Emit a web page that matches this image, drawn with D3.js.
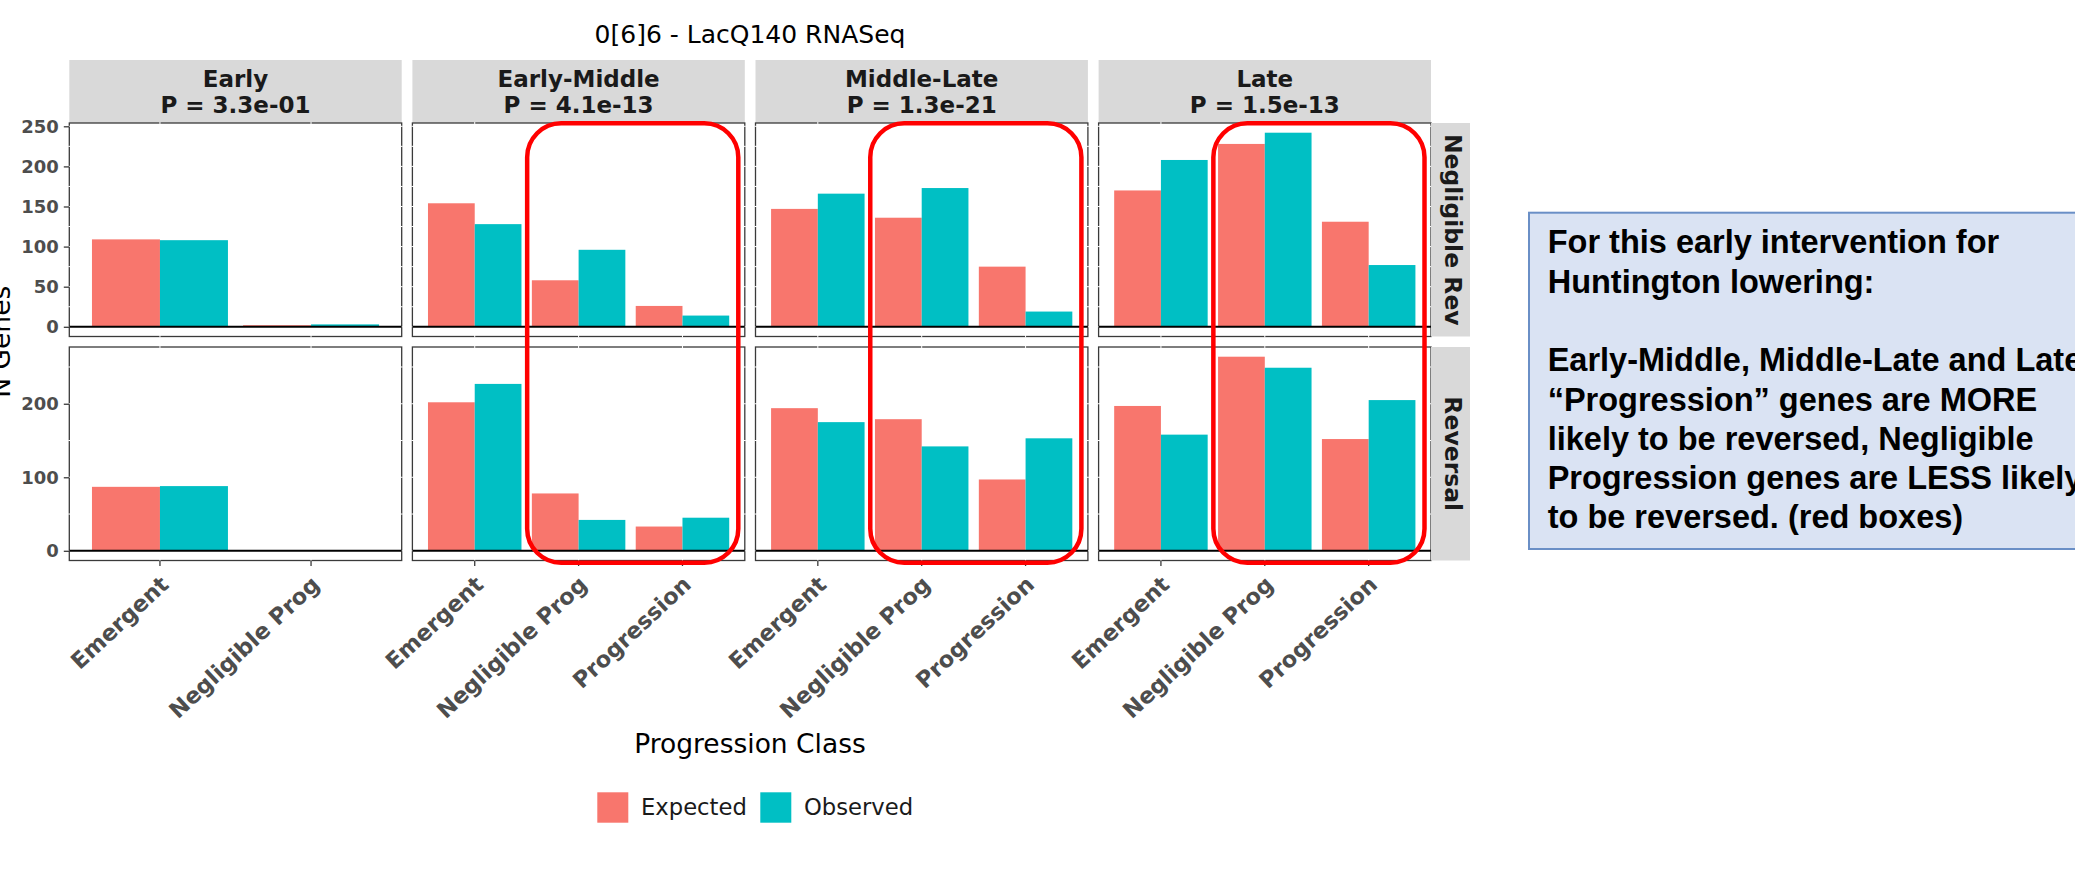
<!DOCTYPE html>
<html>
<head>
<meta charset="utf-8">
<script src="https://cdn.jsdelivr.net/npm/d3@7"></script>
<style>
  body { margin: 0; background: #fff; }
  svg { display: block; }
</style>
</head>
<body>
<svg id="chart" width="2075" height="877"></svg>
<script>
// ---- data -------------------------------------------------------------
const stages = ["Early", "Early-Middle", "Middle-Late", "Late"];
const pValues = ["3.3e-01", "4.1e-13", "1.3e-21", "1.5e-13"];
const progClasses = [
  ["Emergent", "Negligible Prog"],
  ["Emergent", "Negligible Prog", "Progression"],
  ["Emergent", "Negligible Prog", "Progression"],
  ["Emergent", "Negligible Prog", "Progression"]
];
const reversalClasses = ["Negligible Rev", "Reversal"];
const seriesNames = ["Expected", "Observed"];

// counts per stage, in the order of progClasses
const negRevExpected   = [[109, 2], [154, 58, 26], [147, 136, 75], [170, 228, 131]];
const negRevObserved   = [[108, 3], [128, 96, 14], [166, 173, 19], [208, 242, 77]];
const reversalExpected = [[87, 0], [202, 78, 33], [194, 179, 97], [197, 264, 152]];
const reversalObserved = [[88, 0], [227, 42, 45], [175, 142, 153], [158, 249, 205]];

const negRevTicks   = [0, 50, 100, 150, 200, 250];
const reversalTicks = [0, 100, 200];

const chartTitle = "0[6]6 - LacQ140 RNASeq";
const xTitle = "Progression Class";
const yTitle = "N Genes";

const noteLines = [
  "For this early intervention for",
  "Huntington lowering:",
  "",
  "Early-Middle, Middle-Late and Late",
  "\u201CProgression\u201D genes are MORE",
  "likely to be reversed, Negligible",
  "Progression genes are LESS likely",
  "to be reversed. (red boxes)"
];

// ---- layout -----------------------------------------------------------
const colors = { Expected: "#F8766D", Observed: "#00BFC4" };
const font = "'DejaVu Sans', Verdana, sans-serif";
const L = {
  panelLeft: 69.3, panelW: 332.4, gap: 10.7,
  stripTop: 60, stripH: 63,
  rowTops: [123, 347], rowH: 213.5,
  rightStripW: 39
};

const rows = [
  { label: reversalClasses[0], exp: negRevExpected, obs: negRevObserved, ticks: negRevTicks },
  { label: reversalClasses[1], exp: reversalExpected, obs: reversalObserved, ticks: reversalTicks }
];

const svg = d3.select("#chart");
svg.append("rect").attr("width", 2075).attr("height", 877).attr("fill", "#fff");

// title
svg.append("text")
  .attr("x", 750).attr("y", 43.3)
  .attr("text-anchor", "middle")
  .attr("font-family", font).attr("font-size", 25).attr("fill", "#000")
  .text(chartTitle);

const panelX = s => L.panelLeft + s * (L.panelW + L.gap);

// x scales, one per stage (free x)
const xScales = stages.map((st, s) =>
  d3.scaleBand()
    .domain(progClasses[s])
    .range([panelX(s), panelX(s) + L.panelW])
    .paddingInner(0.1)
    .paddingOuter(0.15)
);

// top strips
stages.forEach((st, s) => {
  const g = svg.append("g");
  g.append("rect")
    .attr("x", panelX(s)).attr("y", L.stripTop)
    .attr("width", L.panelW).attr("height", L.stripH)
    .attr("fill", "#D9D9D9");
  const cx = panelX(s) + L.panelW / 2;
  g.append("text")
    .attr("x", cx).attr("y", L.stripTop + 26.7)
    .attr("text-anchor", "middle")
    .attr("font-family", font).attr("font-weight", "bold")
    .attr("font-size", 23).attr("fill", "#1A1A1A")
    .text(st);
  g.append("text")
    .attr("x", cx).attr("y", L.stripTop + 52.7)
    .attr("text-anchor", "middle")
    .attr("font-family", font).attr("font-weight", "bold")
    .attr("font-size", 23).attr("fill", "#1A1A1A")
    .text("P = " + pValues[s]);
});

rows.forEach((row, r) => {
  const top = L.rowTops[r];
  const bottom = top + L.rowH;
  const yMax = d3.max([...row.exp.flat(), ...row.obs.flat()]);
  const y = d3.scaleLinear()
    .domain([-0.05 * yMax, 1.05 * yMax])
    .range([bottom, top]);
  const step = row.ticks[1] - row.ticks[0];
  const minor = row.ticks.map(t => t + step / 2).filter(v => y(v) > top);

  stages.forEach((st, s) => {
    const x = xScales[s];
    const xs = d3.scaleBand().domain(seriesNames).range([0, x.bandwidth()]);
    const px = panelX(s);
    const g = svg.append("g");

    g.append("rect")
      .attr("x", px).attr("y", top).attr("width", L.panelW).attr("height", L.rowH)
      .attr("fill", "#fff").attr("stroke", "#3a3a3a").attr("stroke-width", 1.3);

    // grid lines (white)
    g.selectAll(".gh").data([...row.ticks, ...minor]).join("line")
      .attr("x1", px - 1).attr("x2", px + L.panelW + 1)
      .attr("y1", d => y(d)).attr("y2", d => y(d))
      .attr("stroke", "#fff").attr("stroke-width", 1);
    g.selectAll(".gv").data(progClasses[s]).join("line")
      .attr("x1", d => x(d) + x.bandwidth() / 2).attr("x2", d => x(d) + x.bandwidth() / 2)
      .attr("y1", top - 1).attr("y2", bottom + 1)
      .attr("stroke", "#fff").attr("stroke-width", 1);

    // bars
    const bars = [];
    progClasses[s].forEach((c, i) => {
      bars.push({ cls: c, series: "Expected", value: row.exp[s][i] });
      bars.push({ cls: c, series: "Observed", value: row.obs[s][i] });
    });
    g.selectAll(".bar").data(bars).join("rect")
      .attr("x", d => x(d.cls) + xs(d.series))
      .attr("width", xs.bandwidth())
      .attr("y", d => y(Math.max(0, d.value)))
      .attr("height", d => Math.abs(y(0) - y(d.value)))
      .attr("fill", d => colors[d.series]);

    // zero line
    g.append("line")
      .attr("x1", px).attr("x2", px + L.panelW)
      .attr("y1", y(0)).attr("y2", y(0))
      .attr("stroke", "#000").attr("stroke-width", 2);

    // y axis on first column
    if (s === 0) {
      const ax = g.append("g")
        .attr("transform", `translate(${px},0)`)
        .call(d3.axisLeft(y).tickValues(row.ticks).tickSize(5.5).tickPadding(5));
      ax.select(".domain").remove();
      ax.selectAll(".tick line").attr("stroke", "#3a3a3a").attr("stroke-width", 1.3);
      ax.selectAll(".tick text")
        .attr("font-family", font).attr("font-weight", "bold")
        .attr("font-size", 18).attr("fill", "#4D4D4D");
    }

    // x axis on bottom row
    if (r === rows.length - 1) {
      const ax = g.append("g")
        .attr("transform", `translate(0,${bottom})`)
        .call(d3.axisBottom(x).tickSize(5.5).tickPadding(0));
      ax.select(".domain").remove();
      ax.selectAll(".tick line").attr("stroke", "#3a3a3a").attr("stroke-width", 1.3);
      ax.selectAll(".tick text")
        .attr("y", 0).attr("dy", "0.72em")
        .attr("transform", "translate(-1,14) rotate(-43)")
        .attr("text-anchor", "end")
        .attr("font-family", font).attr("font-weight", "bold")
        .attr("font-size", 22.5).attr("fill", "#4D4D4D");
    }
  });

  // right strip
  const sx = panelX(stages.length - 1) + L.panelW;
  svg.append("rect")
    .attr("x", sx).attr("y", top).attr("width", L.rightStripW).attr("height", L.rowH)
    .attr("fill", "#D9D9D9");
  svg.append("text")
    .attr("transform", `translate(${sx + 13.5},${top + L.rowH / 2}) rotate(90)`)
    .attr("text-anchor", "middle")
    .attr("font-family", font).attr("font-weight", "bold")
    .attr("font-size", 23.5).attr("fill", "#1A1A1A")
    .text(row.label);
});

// axis titles
svg.append("text")
  .attr("x", 750).attr("y", 753.3)
  .attr("text-anchor", "middle")
  .attr("font-family", font).attr("font-size", 26.5).attr("fill", "#000")
  .text(xTitle);
svg.append("text")
  .attr("transform", `translate(9.5,${(L.rowTops[0] + L.rowTops[1] + L.rowH) / 2}) rotate(-90)`)
  .attr("text-anchor", "middle")
  .attr("font-family", font).attr("font-size", 26.5).attr("fill", "#000")
  .text(yTitle);

// legend
const legend = svg.append("g").attr("transform", "translate(597.3,792.3)");
const legendX = d3.scaleOrdinal().domain(seriesNames).range([0, 163]);
seriesNames.forEach(n => {
  const lg = legend.append("g").attr("transform", `translate(${legendX(n)},0)`);
  lg.append("rect").attr("width", 31).attr("height", 30.4).attr("fill", colors[n]);
  lg.append("text")
    .attr("x", 43.7).attr("y", 22.7)
    .attr("font-family", font).attr("font-size", 22.7).attr("fill", "#1A1A1A")
    .text(n);
});

// highlight boxes around Negligible Prog / Progression columns
const hl = svg.append("g");
[1, 2, 3].forEach(s => {
  const x = xScales[s];
  const c0 = x("Emergent") + x.bandwidth() / 2;
  const c1 = x("Negligible Prog") + x.bandwidth() / 2;
  const left = (c0 + c1) / 2 + 0.5;
  const right = panelX(s) + L.panelW - 6.5;
  hl.append("rect")
    .attr("x", left).attr("y", 123.3)
    .attr("width", right - left).attr("height", 562.7 - 123.3)
    .attr("rx", 34).attr("ry", 34)
    .attr("fill", "none").attr("stroke", "#FF0000").attr("stroke-width", 4.5);
});

// note box
const note = svg.append("g");
note.append("rect")
  .attr("x", 1529).attr("y", 212.7).attr("width", 600).attr("height", 336.3)
  .attr("fill", "#DAE3F3").attr("stroke", "#6A8FC6").attr("stroke-width", 2);
note.selectAll("text").data(noteLines).join("text")
  .attr("x", 1547.7)
  .attr("y", (d, i) => 253.3 + i * 39.3)
  .attr("font-family", "'Liberation Sans', Arial, sans-serif")
  .attr("font-weight", "bold").attr("font-size", 32.5).attr("fill", "#000")
  .text(d => d);
</script>
</body>
</html>
